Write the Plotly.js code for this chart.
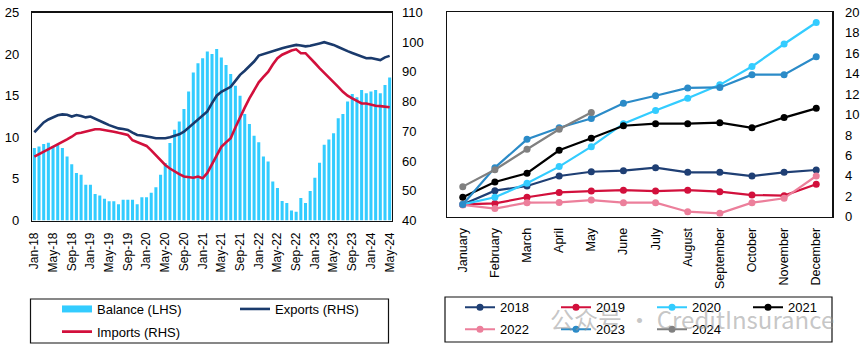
<!DOCTYPE html>
<html>
<head>
<meta charset="utf-8">
<script src="https://cdn.plot.ly/plotly-3.0.1.min.js"></script>
<style>html,body{margin:0;padding:0;background:#fff}#chart{width:865px;height:354px}</style>
</head>
<body>
<div id="chart"></div>
<script>
// ---------- Left panel: monthly trade (Jan-18 .. May-24) ----------
const months = [
 "Jan-18","Feb-18","Mar-18","Apr-18","May-18","Jun-18","Jul-18","Aug-18","Sep-18","Oct-18","Nov-18","Dec-18",
 "Jan-19","Feb-19","Mar-19","Apr-19","May-19","Jun-19","Jul-19","Aug-19","Sep-19","Oct-19","Nov-19","Dec-19",
 "Jan-20","Feb-20","Mar-20","Apr-20","May-20","Jun-20","Jul-20","Aug-20","Sep-20","Oct-20","Nov-20","Dec-20",
 "Jan-21","Feb-21","Mar-21","Apr-21","May-21","Jun-21","Jul-21","Aug-21","Sep-21","Oct-21","Nov-21","Dec-21",
 "Jan-22","Feb-22","Mar-22","Apr-22","May-22","Jun-22","Jul-22","Aug-22","Sep-22","Oct-22","Nov-22","Dec-22",
 "Jan-23","Feb-23","Mar-23","Apr-23","May-23","Jun-23","Jul-23","Aug-23","Sep-23","Oct-23","Nov-23","Dec-23",
 "Jan-24","Feb-24","Mar-24","Apr-24","May-24"];
const monthTicks = ["Jan-18","May-18","Sep-18","Jan-19","May-19","Sep-19","Jan-20","May-20","Sep-20","Jan-21",
 "May-21","Sep-21","Jan-22","May-22","Sep-22","Jan-23","May-23","Sep-23","Jan-24","May-24"];

const balance = [
 8.7,8.9,9.2,9.35,8.9,9.1,8.7,7.7,6.75,5.7,5.5,4.3,
 4.3,3.2,3.0,2.6,2.3,2.3,1.95,2.5,2.5,2.5,1.95,2.8,
 2.8,3.35,4.0,5.5,6.9,9.3,10.9,11.9,13.4,15.5,17.8,18.9,
 19.5,20.3,20.0,20.6,19.6,18.7,17.6,16.2,15.0,12.8,11.6,10.2,
 9.4,7.7,7.1,4.7,3.9,2.35,2.1,1.2,1.05,2.7,2.1,3.55,
 5.15,6.95,9.1,9.75,10.5,12.3,12.8,14.3,15.2,14.8,15.7,15.3,
 15.5,15.7,15.3,16.3,17.2];
const exportsRHS = [
 69.7,71.5,73.0,74.0,74.8,75.4,75.7,75.6,75.0,75.5,75.2,74.7,
 75.0,74.2,73.4,72.8,72.1,71.6,71.0,70.8,70.5,69.6,68.8,68.6,
 68.4,68.0,67.7,67.6,67.7,68.0,68.4,69.0,69.9,71.2,72.7,73.8,
 75.2,76.7,79.5,82.0,83.3,84.2,85.0,87.0,89.0,90.4,91.8,93.5,
 95.5,96.0,96.7,97.0,97.5,98.0,98.4,98.8,99.1,98.9,98.6,98.8,
 99.1,99.6,100.0,99.6,99.1,98.4,97.6,97.0,96.4,95.8,95.0,94.6,
 94.7,94.3,94.0,94.9,95.4];
const importsRHS = [
 61.5,62.3,63.2,64.0,64.8,65.6,66.5,67.3,68.2,69.3,69.5,69.9,
 70.3,70.7,70.7,70.5,70.2,69.9,69.5,69.1,68.8,67.0,66.3,65.7,
 65.1,63.6,62.0,60.3,58.7,57.5,56.4,55.6,54.8,54.6,54.4,54.8,
 54.2,56.0,59.0,62.0,64.8,66.3,67.7,71.3,74.9,78.0,81.1,84.0,
 86.5,88.3,90.0,92.5,94.6,95.8,96.6,97.2,97.6,96.3,96.3,94.5,
 93.0,91.3,89.8,88.0,86.5,85.0,83.3,82.0,81.1,80.3,79.4,79.4,
 79.0,78.6,78.5,78.3,78.1];

// ---------- Right panel: cumulative by calendar month ----------
const monthNames = ["January","February","March","April","May","June","July","August","September","October","November","December"];
const y2018 = [1.2,2.55,3.0,3.98,4.4,4.5,4.8,4.34,4.34,3.98,4.34,4.57];
const y2019 = [1.2,1.3,1.9,2.38,2.51,2.6,2.51,2.6,2.45,2.12,2.06,3.17];
const y2020 = [1.2,1.9,3.27,4.9,6.85,9.1,10.4,11.6,12.9,14.7,16.9,19.0];
const y2021 = [1.9,3.4,4.25,6.5,7.67,8.9,9.1,9.1,9.2,8.7,9.7,10.6];
const y2022 = [1.15,0.8,1.37,1.4,1.63,1.37,1.37,0.49,0.33,1.37,1.8,3.98];
const y2023 = [1.2,4.8,7.57,8.7,9.6,11.1,11.84,12.6,12.65,13.9,13.9,15.65];
const y2024 = [2.94,4.6,6.6,8.55,10.2];

const C = {
  bal:'#33CCFF', exp:'#1A3A6C', imp:'#D2103C',
  c2018:'#1F3F74', c2019:'#D2103C', c2020:'#33CCFF', c2021:'#000000',
  c2022:'#EC7F9B', c2023:'#2B8BC8', c2024:'#808080'
};

const W = 865, H = 354;
const px = v => v / W;
const py = v => (H - v) / H;

const traces = [
  {type:'bar', x:months, y:balance, xaxis:'x', yaxis:'y', marker:{color:C.bal}, showlegend:false, name:'Balance (LHS)'},
  {type:'scatter', mode:'lines', x:months, y:exportsRHS, xaxis:'x', yaxis:'y2', line:{color:C.exp, width:2.6}, name:'Exports (RHS)', showlegend:false},
  {type:'scatter', mode:'lines', x:months, y:importsRHS, xaxis:'x', yaxis:'y2', line:{color:C.imp, width:2.6}, name:'Imports (RHS)', showlegend:false},
  // legend entries
  {type:'scatter', mode:'lines', x:[null], y:[null], xaxis:'x', yaxis:'y', line:{color:C.bal, width:7}, name:'Balance (LHS)', legend:'legend'},
  {type:'scatter', mode:'lines', x:[null], y:[null], xaxis:'x', yaxis:'y', line:{color:C.exp, width:2.6}, name:'Exports (RHS)', legend:'legend'},
  {type:'scatter', mode:'lines', x:[null], y:[null], xaxis:'x', yaxis:'y', line:{color:C.imp, width:2.6}, name:'Imports (RHS)', legend:'legend3'},
];

const years = [
  ['2018', y2018, C.c2018, 'legend2'],
  ['2019', y2019, C.c2019, 'legend2'],
  ['2020', y2020, C.c2020, 'legend2'],
  ['2021', y2021, C.c2021, 'legend2'],
  ['2022', y2022, C.c2022, 'legend4'],
  ['2023', y2023, C.c2023, 'legend4'],
  ['2024', y2024, C.c2024, 'legend4'],
];
years.forEach(([nm, vals, col, lg]) => {
  traces.push({type:'scatter', mode:'lines+markers', name:nm, x:monthNames.slice(0, vals.length), y:vals,
    xaxis:'x2', yaxis:'y3', line:{color:col, width:2.2}, marker:{color:col, size:7}, legend:lg});
});

const fontFam = 'Liberation Sans, Arial, sans-serif';
const axLine = {showline:true, mirror:true, linecolor:'#111', linewidth:1.2, showgrid:false, zeroline:false, ticks:'', automargin:false};

const legendBase = {orientation:'h', bgcolor:'rgba(0,0,0,0)', borderwidth:0, xanchor:'left', yanchor:'top',
  font:{family:fontFam, size:13, color:'#000'}, itemclick:false, itemdoubleclick:false};

const layout = {
  width:W, height:H,
  margin:{l:0, r:0, t:0, b:0},
  paper_bgcolor:'#fff', plot_bgcolor:'#fff',
  font:{family:fontFam, size:13, color:'#000'},
  bargap:0.35,
  xaxis:Object.assign({}, axLine, {domain:[px(32), px(392)], anchor:'y', type:'category', range:[-0.5, 76.5],
    tickmode:'array', tickvals:monthTicks, ticktext:monthTicks, tickangle:-90, tickfont:{size:12}, ticklabelstandoff:6}),
  yaxis:Object.assign({}, axLine, {domain:[py(220.5), py(12.5)], anchor:'x', range:[0,25], dtick:5, tickfont:{size:13}, ticklabelstandoff:9}),
  yaxis2:{overlaying:'y', side:'right', anchor:'x', range:[40,110], dtick:10, showgrid:false, zeroline:false, showline:false, ticks:'', tickfont:{size:13}, ticklabelstandoff:9, automargin:false},
  xaxis2:Object.assign({}, axLine, {domain:[px(446.7), px(832.3)], anchor:'y3', type:'category', range:[-0.5, 11.5],
    categoryorder:'array', categoryarray:monthNames, tickangle:-90, tickfont:{size:12.5}, ticklabelstandoff:5}),
  yaxis3:Object.assign({}, axLine, {domain:[py(216.7), py(12.3)], anchor:'x2', side:'right', range:[0,20], dtick:2, tickfont:{size:13}, ticklabelstandoff:9}),
  legend:Object.assign({}, legendBase, {x:px(57), y:py(294), entrywidth:133}),
  legend3:Object.assign({}, legendBase, {x:px(57), y:py(316.7), entrywidth:133}),
  legend2:Object.assign({}, legendBase, {x:px(460), y:py(292.3), entrywidth:51}),
  legend4:Object.assign({}, legendBase, {x:px(460), y:py(314.3), entrywidth:51}),
  shapes:[
    {type:'rect', xref:'paper', yref:'paper', x0:px(30.5), x1:px(388.5), y0:py(343), y1:py(299), line:{color:'#111', width:1.2}, fillcolor:'rgba(0,0,0,0)'},
    {type:'rect', xref:'paper', yref:'paper', x0:px(445), x1:px(832), y0:py(342), y1:py(297), line:{color:'#111', width:1.2}, fillcolor:'rgba(0,0,0,0)'}
  ],
  annotations:[
    {xref:'paper', yref:'paper', x:px(548), y:py(318), xanchor:'left', yanchor:'middle', showarrow:false,
     text:'公众号 · CreditInsurance', font:{family:'Noto Sans CJK SC, sans-serif', size:24, color:'rgba(150,150,150,0.55)'}}
  ]
};

Plotly.newPlot('chart', traces, layout, {staticPlot:true, displayModeBar:false});
</script>
</body>
</html>
